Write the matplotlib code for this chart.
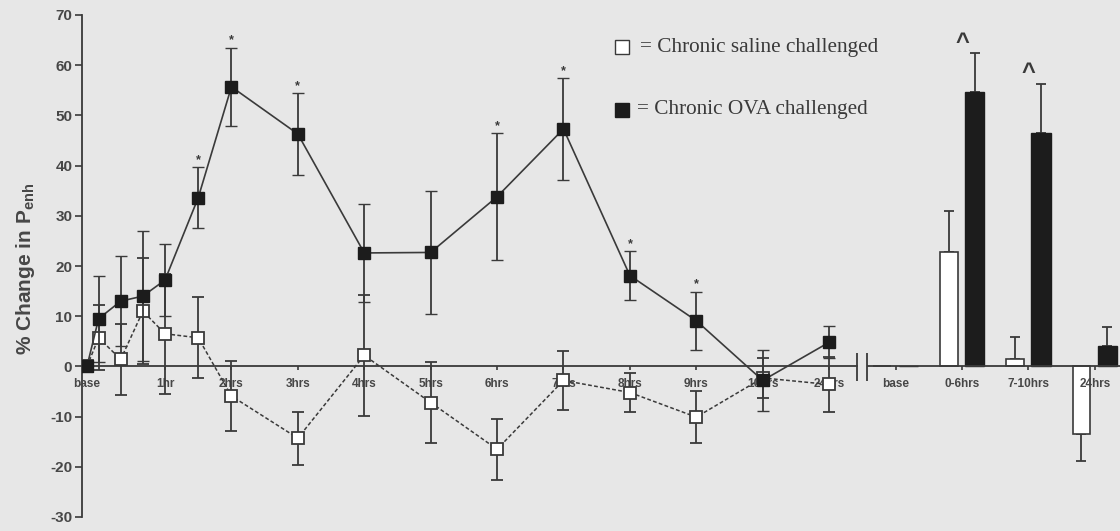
import matplotlib
matplotlib.use('Agg')
import matplotlib.pyplot as plt
import numpy as np

# ---------------- data ----------------
time_pos = [-0.175, 0, 1/3, 2/3, 1, 1.5, 2, 3, 4, 5, 6, 7, 8, 9, 10, 11]
saline_mean = [0, 5.7, 1.4, 11.0, 6.5, 5.7, -5.9, -14.3, 2.2, -7.2, -16.5, -2.8, -5.2, -10.1, -2.3, -3.6]
saline_sem = [0, 6.5, 7.0, 10.5, 12.0, 8.1, 7.0, 5.3, 12.0, 8.1, 6.1, 5.8, 3.9, 5.2, 4.0, 5.4]
ova_mean = [0, 9.5, 13.0, 14.0, 17.2, 33.6, 55.7, 46.3, 22.6, 22.7, 33.8, 47.3, 18.1, 9.1, -2.8, 4.8]
ova_sem = [0, 8.6, 9.0, 13.0, 7.2, 6.1, 7.8, 8.1, 9.8, 12.2, 12.6, 10.2, 4.8, 5.8, 6.0, 3.2]
ova_sig = [False, False, False, False, False, True, True, True, False, False, True, True, True, True, False, False]

tick_pos = [-0.175, 1, 2, 3, 4, 5, 6, 7, 8, 9, 10, 11]
tick_labels = ['base', '1hr', '2hrs', '3hrs', '4hrs', '5hrs', '6hrs', '7hrs', '8hrs', '9hrs', '10hrs', '24hrs']

bar_groups = ['base', '0-6hrs', '7-10hrs', '24hrs']
bar_pos = [12, 13, 14, 15]
saline_bar = [0, 22.7, 1.4, -13.5]
saline_bar_err = [0, 8.3, 4.4, 5.4]
ova_bar = [0, 54.7, 46.5, 4.0]
ova_bar_err = [0, 7.7, 9.8, 3.8]
ova_bar_sig = [False, True, True, False]

legend_labels = ['= Chronic saline challenged', '= Chronic OVA challenged']

# ---------------- style ----------------
BG = '#e7e7e7'
INK = '#3a3a3a'
DARK = '#1c1c1c'
TXT = '#474747'

plt.rcParams['axes.unicode_minus'] = False
plt.rcParams['mathtext.fontset'] = 'custom'
plt.rcParams['mathtext.rm'] = 'Liberation Sans:bold'
plt.rcParams['mathtext.bf'] = 'Liberation Sans:bold'

fig = plt.figure(figsize=(11.2, 5.31), dpi=100, facecolor=BG)
ax = fig.add_axes([82/1120, 1 - 517/531, (1120 - 82)/1120, (517 - 15)/531])
ax.set_facecolor(BG)
ax.set_axisbelow(False)

xmin, xmax = -0.25, 15.38
brk_lo, brk_hi = 11.42, 11.57
ax.set_xlim(xmin, xmax)
ax.set_ylim(-30, 70)

# spines
for s in ['top', 'right']:
    ax.spines[s].set_visible(False)
ax.spines['left'].set_color(INK)
ax.spines['left'].set_linewidth(1.3)
ax.spines['left'].set_bounds(-30, 70)
ax.spines['bottom'].set_position(('data', 0))
ax.spines['bottom'].set_bounds(xmin, brk_lo)
ax.spines['bottom'].set_color(INK)
ax.spines['bottom'].set_linewidth(1.3)
ax.hlines(0, brk_hi, xmax, color=INK, lw=1.3, clip_on=False, zorder=2.6)
ax.vlines([brk_lo, brk_hi], -3.0, 2.6, color=INK, lw=1.3, zorder=2.6)

ax.set_yticks(np.arange(-30, 71, 10))
ax.tick_params(axis='y', direction='out', length=5, width=1.2, color=INK,
               labelsize=11, labelcolor=TXT, pad=2)
for lab in ax.get_yticklabels():
    lab.set_fontfamily('Liberation Sans')
    lab.set_fontweight('bold')

all_tick_pos = tick_pos + bar_pos
all_tick_labels = tick_labels + bar_groups
ax.set_xticks(all_tick_pos)
ax.set_xticklabels(all_tick_labels, fontfamily='Liberation Sans', fontweight='bold')
ax.tick_params(axis='x', direction='out', length=3, width=1.2, color=INK,
               labelsize=8.5, labelcolor=TXT, pad=5)

ax.set_ylabel(r'% Change in P$_{\mathbf{enh}}$', fontsize=15, fontweight='bold',
              fontfamily='Liberation Sans', color=TXT)
ax.yaxis.set_label_coords(-0.043, 0.494)

# ---------------- line series ----------------
ax.errorbar(time_pos, saline_mean, yerr=saline_sem, fmt='s', ls=(0, (2.5, 1.5)),
            color=INK, lw=1.1, ms=8.5, mfc='white', mec=INK, mew=1.3,
            ecolor=INK, elinewidth=1.3, capsize=4, capthick=1.3, zorder=3)
ax.errorbar(time_pos, ova_mean, yerr=ova_sem, fmt='s', ls='-',
            color=INK, lw=1.2, ms=8.5, mfc=DARK, mec=DARK, mew=1.0,
            ecolor=INK, elinewidth=1.3, capsize=4, capthick=1.3, zorder=4)

for x, m, e, s in zip(time_pos, ova_mean, ova_sem, ova_sig):
    if s:
        ax.text(x, m + e + 1.4, '*', ha='center', va='center', fontsize=9,
                fontweight='bold', color=INK, fontfamily='Liberation Sans')

# ---------------- bars ----------------
bw = 0.27
bp = np.array(bar_pos, dtype=float)
sb = np.array(saline_bar)
se = np.array(saline_bar_err)
ob = np.array(ova_bar)
oe = np.array(ova_bar_err)

ax.bar(bp - 0.2, sb, width=bw, color='white', edgecolor=INK, linewidth=1.2, zorder=2)
ax.bar(bp + 0.19, ob, width=bw + 0.02, color=DARK, edgecolor=DARK, linewidth=1.0, zorder=2)

mask = se > 0
ax.errorbar((bp - 0.2)[mask], sb[mask],
            yerr=[np.where(sb < 0, se, 0)[mask], np.where(sb > 0, se, 0)[mask]],
            fmt='none', ecolor=INK, elinewidth=1.3, capsize=3.5, capthick=1.3, zorder=1.9)
mask = oe > 0
ax.errorbar((bp + 0.19)[mask], ob[mask],
            yerr=[np.where(ob < 0, oe, 0)[mask], np.where(ob > 0, oe, 0)[mask]],
            fmt='none', ecolor=INK, elinewidth=1.3, capsize=3.5, capthick=1.3, zorder=1.9)

for x, m, e, s in zip(bar_pos, ova_bar, ova_bar_err, ova_bar_sig):
    if s:
        ax.text(x, m + e + 2.2, '^', ha='center', va='center', fontsize=17,
                fontweight='bold', color=INK, fontfamily='Liberation Sans')

# ---------------- legend ----------------
ax.plot([0.520], [0.936], marker='s', ms=10.5, mfc='white', mec=INK, mew=1.0,
        ls='none', transform=ax.transAxes, clip_on=False)
ax.plot([0.520], [0.811], marker='s', ms=10.5, mfc=DARK, mec=DARK, mew=1.0,
        ls='none', transform=ax.transAxes, clip_on=False)
ax.text(0.5376, 0.936, legend_labels[0], transform=ax.transAxes, va='center', ha='left',
        fontsize=15.3, fontfamily='Liberation Serif', color=INK)
ax.text(0.5350, 0.811, legend_labels[1], transform=ax.transAxes, va='center', ha='left',
        fontsize=15.3, fontfamily='Liberation Serif', color=INK)

fig.savefig('out.png', dpi=100, facecolor=BG)
